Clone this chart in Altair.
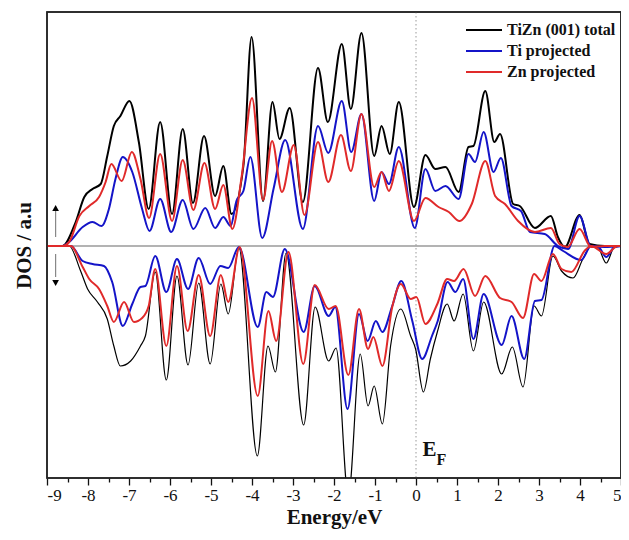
import altair as alt
import pandas as pd

# ---------------- data ----------------
SERIES = ["TiZn (001) total", "Ti projected", "Zn projected"]
COLORS = ["#000000", "#1414c8", "#e02a2a"]

# spin-up, total
tot_up_e = [-9.00, -8.62, -8.30, -8.09, -7.89, -7.69, -7.53, -7.37, -7.21, -6.99, -6.76, -6.52, -6.24, -5.95,
            -5.69, -5.44, -5.17, -4.90, -4.70, -4.50, -4.21, -4.01, -3.73, -3.50, -3.33, -3.08, -2.76, -2.39,
            -2.15, -1.81, -1.59, -1.33, -1.02, -0.84, -0.64, -0.42, -0.05, 0.23, 0.47, 0.72, 1.04, 1.28, 1.40,
            1.69, 1.91, 2.05, 2.37, 2.53, 2.90, 3.29, 3.46, 3.63, 3.99, 4.23, 4.60, 5.00]
tot_up = [0, 0, 2.4, 4.9, 5.7, 6.2, 9.0, 12.0, 13.0, 14.5, 10.4, 3.7, 12.4, 3.2,
          11.7, 4.3, 11.0, 5.0, 8.0, 3.2, 8.0, 20.9, 4.5, 14.4, 10.7, 13.8, 4.4, 17.8,
          12.4, 20.2, 13.7, 21.3, 9.0, 12.0, 9.2, 14.4, 3.9, 9.1, 7.7, 7.9, 5.4, 9.9, 10.0,
          15.5, 10.4, 11.2, 4.2, 4.0, 1.8, 3.0, 0.9, -0.1, 3.1, 0.2, 0, 0]

# spin-up, Ti projected
ti_up_e = [-9.00, -8.62, -8.46, -8.13, -7.89, -7.67, -7.49, -7.33, -7.15, -6.92, -6.68, -6.50, -6.24, -5.97,
           -5.69, -5.43, -5.14, -4.90, -4.70, -4.52, -4.38, -4.21, -4.04, -3.75, -3.47, -3.19, -2.76, -2.39,
           -2.14, -1.81, -1.58, -1.33, -1.02, -0.84, -0.66, -0.42, -0.03, 0.23, 0.47, 0.72, 1.04, 1.28, 1.44,
           1.65, 1.89, 2.07, 2.33, 2.56, 2.78, 3.14, 3.46, 3.71, 3.99, 4.26, 4.60, 5.00]
ti_up = [0, 0, 0.4, 1.9, 2.4, 2.0, 3.7, 6.7, 8.9, 7.4, 3.7, 1.5, 4.7, 1.4,
         4.6, 1.7, 3.8, 1.8, 2.9, 2.0, 4.5, 5.5, 8.9, 0.8, 5.8, 10.6, 1.7, 12.0,
         9.3, 14.5, 9.4, 13.2, 4.5, 7.4, 6.2, 9.9, 1.8, 7.7, 5.5, 6.0, 4.7, 9.2, 8.4,
         11.4, 7.4, 8.8, 4.0, 3.5, 1.4, 1.2, 0, -0.3, 3.0, 0, -0.1, 0]

# spin-up, Zn projected
zn_up_e = [-9.00, -8.62, -8.46, -8.21, -7.97, -7.73, -7.57, -7.43, -7.18, -6.93, -6.72, -6.51, -6.24, -5.95,
           -5.69, -5.43, -5.16, -4.90, -4.70, -4.48, -4.25, -4.00, -3.73, -3.51, -3.27, -2.98, -2.72, -2.39,
           -2.14, -1.83, -1.59, -1.33, -1.02, -0.84, -0.66, -0.42, -0.05, 0.23, 0.55, 0.80, 1.06, 1.36, 1.69,
           1.93, 2.17, 2.49, 2.90, 3.29, 3.50, 3.70, 3.99, 4.27, 4.60, 5.00]
zn_up = [0, 0, 0.4, 3.0, 4.0, 4.9, 6.4, 8.2, 6.5, 9.4, 6.7, 2.8, 9.2, 2.5,
         8.6, 3.6, 8.3, 3.7, 6.1, 1.7, 7.0, 14.8, 4.6, 10.5, 5.4, 10.1, 3.1, 10.4,
         6.4, 11.1, 7.5, 13.2, 5.9, 7.4, 5.5, 8.5, 2.5, 4.8, 3.9, 3.4, 2.5, 4.2, 8.5,
         5.0, 4.2, 2.5, 1.4, 1.8, 0.2, -0.1, 1.7, -0.1, 0, 0]

# spin-down, total
tot_dn_e = [-9.00, -8.46, -8.18, -8.01, -7.77, -7.53, -7.37, -7.21, -6.96, -6.72, -6.60, -6.36, -6.09, -5.83,
            -5.56, -5.30, -5.02, -4.76, -4.58, -4.32, -3.87, -3.61, -3.43, -3.17, -2.74, -2.46, -2.13, -1.95,
            -1.65, -1.36, -1.17, -1.02, -0.82, -0.62, -0.37, -0.13, -0.01, 0.18, 0.35, 0.52, 0.76, 0.93, 1.15,
            1.40, 1.65, 2.09, 2.35, 2.61, 2.88, 3.06, 3.34, 3.55, 3.83, 4.07, 4.27, 4.43, 4.64, 4.84, 5.00]
tot_dn = [0, 0, -2.5, -4.3, -5.6, -7.3, -10.0, -12.0, -11.5, -10.0, -9.0, -2.6, -13.4, -3.0,
          -11.9, -3.7, -11.8, -3.8, -6.8, -0.2, -21.0, -10.0, -12.6, -0.7, -17.9, -6.1, -11.5, -10.2,
          -25.0, -10.8, -16.0, -14.0, -17.8, -10.0, -6.3, -9.0, -10.3, -14.6, -11.3, -8.6, -5.8, -7.5, -4.8,
          -10.5, -5.6, -12.8, -10.1, -14.1, -6.0, -7.0, -1.0, -2.5, -3.2, -1.3, 0, -0.1, -1.7, -0.1, 0]

# spin-down, Ti projected
ti_dn_e = [-9.00, -8.42, -8.13, -7.89, -7.61, -7.41, -7.15, -6.92, -6.72, -6.60, -6.36, -6.09, -5.83, -5.56,
           -5.30, -5.02, -4.77, -4.58, -4.32, -3.86, -3.65, -3.49, -3.20, -2.74, -2.47, -2.13, -1.97, -1.67,
           -1.39, -1.18, -0.98, -0.82, -0.58, -0.36, -0.09, 0.15, 0.39, 0.53, 0.77, 0.96, 1.15, 1.40, 1.65,
           2.09, 2.33, 2.64, 2.90, 3.06, 3.38, 3.59, 4.03, 4.27, 4.45, 4.64, 4.84, 5.00]
ti_dn = [0, 0, -1.5, -1.8, -2.0, -3.6, -8.0, -5.8, -4.1, -4.0, -1.0, -4.6, -1.3, -4.3,
         -1.2, -3.8, -2.0, -2.2, -0.1, -8.1, -4.6, -5.1, -0.3, -8.6, -4.0, -7.0, -6.1, -16.3,
         -6.8, -9.5, -7.5, -8.6, -6.0, -3.5, -7.5, -11.3, -9.0, -7.5, -3.6, -4.6, -3.3, -9.3, -4.8,
         -9.9, -7.0, -11.3, -5.5, -5.4, 0, -0.5, -1.4, 0, -0.1, -1.1, -0.1, 0]

# spin-down, Zn projected
zn_dn_e = [-9.00, -8.42, -8.13, -7.97, -7.73, -7.53, -7.37, -7.12, -6.88, -6.68, -6.52, -6.36, -6.09, -5.83,
           -5.57, -5.30, -5.02, -4.76, -4.58, -4.30, -3.86, -3.60, -3.41, -3.11, -2.75, -2.47, -2.13, -1.96,
           -1.65, -1.39, -1.17, -1.04, -0.82, -0.58, -0.37, -0.13, 0.01, 0.23, 0.52, 0.76, 0.93, 1.16, 1.44,
           1.69, 2.05, 2.33, 2.61, 2.88, 3.06, 3.34, 3.55, 3.79, 4.11, 4.27, 4.64, 4.92, 5.00]
zn_dn = [0, 0, -2.1, -3.3, -4.3, -6.0, -7.6, -5.6, -7.6, -7.2, -6.0, -2.3, -10.0, -2.0,
         -8.5, -2.9, -9.0, -2.9, -5.6, -0.1, -15.0, -6.5, -9.5, -0.6, -11.8, -3.9, -6.3, -6.0,
         -12.9, -6.3, -10.3, -9.1, -12.0, -6.1, -3.8, -5.3, -5.1, -7.8, -5.8, -3.3, -3.5, -2.3, -5.0,
         -3.0, -5.2, -5.6, -7.2, -2.8, -3.5, -0.8, -2.3, -2.6, -0.5, 0, -0.8, 0, 0]

# tick values (major + minor)
x_ticks = [v / 2 for v in range(-18, 11)]

# annotations
arrow_x = [-8.79, -8.79]
arrow_from = [0.9, -0.8]
arrow_to = [3.5, -3.1]
head_y = [3.8, -3.7]
head_shape = ["triangle-up", "triangle-down"]
ef_text = ["E", "F"]
ef_x = [0.16, 0.50]
ef_y = [-21.0, -21.9]
ef_size = [21, 16]


def frame(e, v, series, spin, w):
    assert len(e) == len(v), (series, spin, len(e), len(v))
    return pd.DataFrame({"energy": e, "dos": v, "series": series, "spin": spin, "w": w})


df = pd.concat([
    frame(tot_up_e, tot_up, SERIES[0], "up", 2.0),
    frame(tot_dn_e, tot_dn, SERIES[0], "down", 1.2),
    frame(ti_up_e, ti_up, SERIES[1], "up", 2.0),
    frame(ti_dn_e, ti_dn, SERIES[1], "down", 2.0),
    frame(zn_up_e, zn_up, SERIES[2], "up", 2.0),
    frame(zn_dn_e, zn_dn, SERIES[2], "down", 2.0),
], ignore_index=True)

SERIF = "Liberation Serif"
W, H = 574, 466

x_scale = alt.Scale(domain=[-9, 5], nice=False, zero=False)
y_scale = alt.Scale(domain=[-23.2, 23.4], nice=False, zero=False)

x_axis = alt.Axis(
    values=x_ticks,
    labelExpr="datum.value % 1 === 0 ? '' + datum.value : ''",
    tickSize={"condition": {"test": "datum.value % 1 === 0", "value": 7}, "value": 4},
    tickColor="#111", tickWidth=1.3, domain=False, grid=False,
    labelFont=SERIF, labelFontSize=17, labelColor="#111", labelPadding=2,
    title="Energy/eV", titleFont=SERIF, titleFontSize=21, titleFontWeight="bold",
    titleColor="#111", titlePadding=3,
)
y_axis = alt.Axis(
    ticks=False, labels=False, domain=False, grid=False,
    title="DOS / a.u", titleFont=SERIF, titleFontSize=21, titleFontWeight="bold",
    titleColor="#111", titlePadding=13,
)

X = alt.X("energy:Q", scale=x_scale, axis=x_axis)
Y = alt.Y("dos:Q", scale=y_scale, axis=y_axis)

color = alt.Color(
    "series:N",
    scale=alt.Scale(domain=SERIES, range=COLORS),
    legend=alt.Legend(
        title=None, orient="none", legendX=427, legendY=8,
        symbolType="M-2,0L2,0", symbolSize=324, symbolStrokeWidth=2,
        labelFont=SERIF, labelFontSize=16, labelFontWeight="bold", labelColor="#111",
        labelOffset=13, padding=0, rowPadding=3,
    ),
)

zero_line = alt.Chart(pd.DataFrame({"dos": [0]})).mark_rule(
    color="#9a9a9a", strokeWidth=1.3
).encode(y=alt.Y("dos:Q", scale=y_scale, axis=y_axis))

fermi_line = alt.Chart(pd.DataFrame({"energy": [0]})).mark_rule(
    color="#999999", strokeWidth=1, strokeDash=[1.5, 2.5]
).encode(x=alt.X("energy:Q", scale=x_scale, axis=x_axis))

layers = [zero_line, fermi_line]
for s in SERIES:
    layers.append(
        alt.Chart(df[df["series"] == s]).mark_line(interpolate="monotone", clip=True).encode(
            x=X, y=Y, color=color, detail="spin:N",
            strokeWidth=alt.StrokeWidth("w:Q", scale=None, legend=None),
        )
    )

arrows_df = pd.DataFrame({"energy": arrow_x, "y1": arrow_from, "y2": arrow_to})
shafts = alt.Chart(arrows_df).mark_rule(color="#888888", strokeWidth=1.2).encode(
    x=alt.X("energy:Q", scale=x_scale, axis=x_axis),
    y=alt.Y("y1:Q", scale=y_scale, axis=y_axis), y2="y2:Q",
)
heads_df = pd.DataFrame({"energy": arrow_x, "dos": head_y, "shape": head_shape})
heads = alt.Chart(heads_df).mark_point(filled=True, color="#000000", size=45, opacity=1).encode(
    x=X, y=Y, shape=alt.Shape("shape:N", scale=None, legend=None),
)

ef_df = pd.DataFrame({"energy": ef_x, "dos": ef_y, "t": ef_text, "fs": ef_size})
ef = alt.Chart(ef_df).mark_text(
    font=SERIF, fontWeight="bold", color="#111", align="left", baseline="alphabetic"
).encode(x=X, y=Y, text="t:N", size=alt.Size("fs:Q", scale=None, legend=None))

# plot frame
box = alt.Chart(pd.DataFrame({"k": [0]})).mark_rect(
    fillOpacity=0, stroke="#222222", strokeWidth=1.5
).encode(x=alt.value(0), x2=alt.value(W), y=alt.value(0), y2=alt.value(H))

chart = alt.layer(*layers, shafts, heads, ef, box).properties(
    width=W, height=H,
    background="white",
    autosize=alt.AutoSizeParams(type="none"),
    padding={"left": 39, "top": 4, "right": 0, "bottom": 54},
).configure_view(stroke="#222222", strokeWidth=1.5)

chart.save("out.html", embed_options={"renderer": "svg", "actions": False})
